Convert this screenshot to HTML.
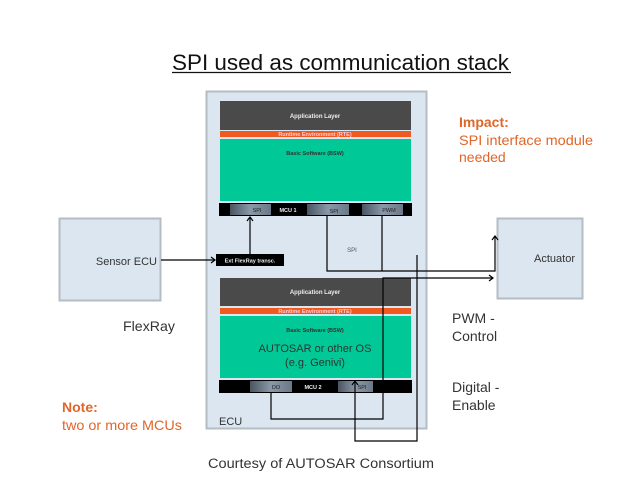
<!DOCTYPE html>
<html><head><meta charset="utf-8"><style>
html,body{margin:0;padding:0;background:#fff}
svg{display:block}
text{font-family:"Liberation Sans",sans-serif}
</style></head><body>
<svg width="638" height="479" viewBox="0 0 638 479" xmlns="http://www.w3.org/2000/svg">
<defs>
<linearGradient id="chip" x1="0" y1="0" x2="1" y2="0">
<stop offset="0" stop-color="#4a5560"/><stop offset="0.5" stop-color="#8a98a8"/><stop offset="1" stop-color="#6a7888"/>
</linearGradient>
</defs>
<text x="172" y="70" font-size="22.5" fill="#111" textLength="337" lengthAdjust="spacingAndGlyphs">SPI used as communication stack</text>
<line x1="172" y1="72.5" x2="511" y2="72.5" stroke="#111" stroke-width="1.2"/>

<rect x="206.5" y="91.5" width="220" height="337" fill="#dce6f0" stroke="#b4bcc4" stroke-width="2"/>
<rect x="59.5" y="218.5" width="101" height="82" fill="#dce6f0" stroke="#b4bcc4" stroke-width="2"/>
<rect x="497.5" y="218.5" width="85" height="80" fill="#dce6f0" stroke="#b4bcc4" stroke-width="2"/>
<text x="157" y="265" font-size="11" fill="#333" text-anchor="end">Sensor ECU</text>
<text x="575" y="262" font-size="11" fill="#333" text-anchor="end">Actuator</text>

<!-- MCU1 stack -->
<rect x="220" y="101" width="191" height="29" fill="#4a4a4a"/>
<text x="315" y="118" font-size="6" font-weight="bold" fill="#eee" text-anchor="middle">Application Layer</text>
<rect x="220" y="131" width="191" height="6" fill="#f05a1e"/>
<text x="315" y="136" font-size="5.5" font-weight="bold" fill="#fcd" text-anchor="middle">Runtime Environment (RTE)</text>
<rect x="220" y="139" width="191" height="62" fill="#00c896"/>
<text x="315" y="155" font-size="5.5" font-weight="bold" fill="#333" text-anchor="middle">Basic Software (BSW)</text>
<rect x="219" y="203" width="193" height="13" fill="#000"/>
<rect x="230" y="204" width="41" height="11" fill="url(#chip)"/>
<rect x="307" y="204" width="42" height="11" fill="url(#chip)"/>
<rect x="362" y="204" width="41" height="11" fill="url(#chip)"/>
<text x="257" y="212" font-size="5.5" fill="#222" text-anchor="middle">SPI</text>
<text x="288" y="212" font-size="5.5" font-weight="bold" fill="#eee" text-anchor="middle">MCU 1</text>
<text x="334" y="213" font-size="5.5" fill="#222" text-anchor="middle">SPI</text>
<text x="389" y="212" font-size="5.5" fill="#222" text-anchor="middle">PWM</text>
<text x="352" y="252" font-size="6" fill="#555" text-anchor="middle">SPI</text>

<rect x="216" y="254" width="68" height="12" fill="#000"/>
<text x="250" y="262.5" font-size="5.5" font-weight="bold" fill="#eee" text-anchor="middle">Ext FlexRay transc.</text>

<!-- MCU2 stack -->
<rect x="220" y="278" width="191" height="28" fill="#4a4a4a"/>
<text x="315" y="294" font-size="6" font-weight="bold" fill="#eee" text-anchor="middle">Application Layer</text>
<rect x="220" y="308" width="191" height="6" fill="#f05a1e"/>
<text x="315" y="313" font-size="5.5" font-weight="bold" fill="#fcd" text-anchor="middle">Runtime Environment (RTE)</text>
<rect x="220" y="316" width="191" height="62" fill="#00c896"/>
<text x="315" y="332" font-size="5.5" font-weight="bold" fill="#333" text-anchor="middle">Basic Software (BSW)</text>
<text x="315" y="352" font-size="11" fill="#333" text-anchor="middle">AUTOSAR or other OS</text>
<text x="315" y="366" font-size="11" fill="#333" text-anchor="middle">(e.g. Genivi)</text>
<rect x="219" y="380" width="193" height="13" fill="#000"/>
<rect x="250" y="381" width="42" height="11" fill="url(#chip)"/>
<rect x="338" y="381" width="35" height="11" fill="url(#chip)"/>
<text x="276" y="389" font-size="5.5" fill="#222" text-anchor="middle">DO</text>
<text x="313" y="389" font-size="5.5" font-weight="bold" fill="#eee" text-anchor="middle">MCU 2</text>
<text x="362" y="389" font-size="5.5" fill="#222" text-anchor="middle">SPI</text>
<text x="219" y="425" font-size="11" fill="#333">ECU</text>

<!-- connectors -->
<g fill="none" stroke="#000" stroke-width="1.2">
<path d="M161 260 H215"/><path d="M211 257 L215 260 L211 263"/>
<path d="M250 254 V217"/><path d="M247 221 L250 217 L253 221"/>
<path d="M327 216 V271 H495 V236"/><path d="M492 240 L495 236 L498 240"/>
<path d="M382 216 V271"/>
<path d="M271 393 V419 H383 V278 H493"/><path d="M489 275 L493 278 L489 281"/>
<path d="M417 255 V441 H355 V381"/><path d="M352 385 L355 381 L358 385"/>
</g>

<text x="459" y="127" font-size="14" font-weight="bold" fill="#e0662a">Impact:</text>
<text x="459" y="145" font-size="14" fill="#e0662a" textLength="134" lengthAdjust="spacingAndGlyphs">SPI interface module</text>
<text x="459" y="162" font-size="14" fill="#e0662a">needed</text>
<text x="452" y="323" font-size="14" fill="#333">PWM -</text>
<text x="452" y="341" font-size="14" fill="#333">Control</text>
<text x="452" y="392" font-size="14" fill="#333">Digital -</text>
<text x="452" y="410" font-size="14" fill="#333">Enable</text>
<text x="123" y="331" font-size="14" fill="#333" textLength="52" lengthAdjust="spacingAndGlyphs">FlexRay</text>
<text x="62" y="412" font-size="14" font-weight="bold" fill="#e0662a">Note:</text>
<text x="62" y="430" font-size="14" fill="#e0662a" textLength="120" lengthAdjust="spacingAndGlyphs">two or more MCUs</text>
<text x="208" y="468" font-size="13.5" fill="#333" textLength="226" lengthAdjust="spacingAndGlyphs">Courtesy of AUTOSAR Consortium</text>
</svg>
</body></html>
